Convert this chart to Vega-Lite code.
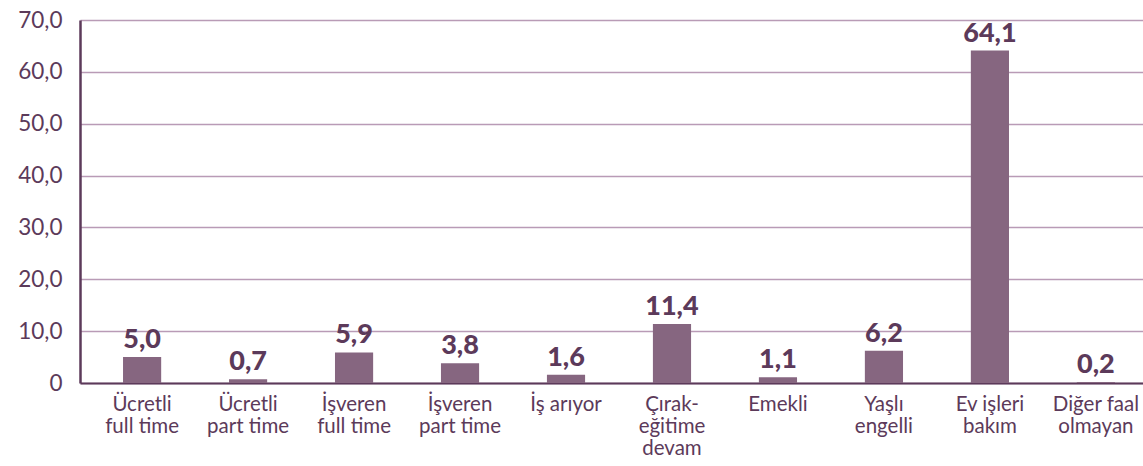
{
  "$schema": "https://vega.github.io/schema/vega-lite/v6.json",
  "autosize": {"type": "none"},
  "width": 1078,
  "height": 363,
  "padding": {"left": 80, "top": 20, "right": 0, "bottom": 83},
  "background": "white",
  "data": {"values": [
    {"cat": "Ücretli|full time", "value": 5.0, "lbl": "5,0"},
    {"cat": "Ücretli|part time", "value": 0.7, "lbl": "0,7"},
    {"cat": "İşveren|full time", "value": 5.9, "lbl": "5,9"},
    {"cat": "İşveren|part time", "value": 3.8, "lbl": "3,8"},
    {"cat": "İş arıyor", "value": 1.6, "lbl": "1,6"},
    {"cat": "Çırak-|eğitime|devam", "value": 11.4, "lbl": "11,4"},
    {"cat": "Emekli", "value": 1.1, "lbl": "1,1"},
    {"cat": "Yaşlı|engelli", "value": 6.2, "lbl": "6,2"},
    {"cat": "Ev işleri|bakım", "value": 64.1, "lbl": "64,1"},
    {"cat": "Diğer faal|olmayan", "value": 0.2, "lbl": "0,2"}
  ]},
  "encoding": {
    "x": {
      "field": "cat", "type": "nominal", "sort": null,
      "scale": {"paddingInner": 0.64, "paddingOuter": 0.406},
      "axis": {
        "title": null, "labelAngle": 0, "ticks": false,
        "labelExpr": "split(datum.label, '|')",
        "labelFont": "Lato", "labelFontSize": 20.5, "labelColor": "#5c3a5a",
        "labelPadding": 11, "labelLineHeight": 22, "labelBaseline": "top",
        "domainColor": "#5c3a5a", "domainWidth": 2
      }
    },
    "y": {
      "field": "value", "type": "quantitative",
      "scale": {"domain": [0, 70], "nice": false},
      "axis": {
        "title": null, "values": [0, 10, 20, 30, 40, 50, 60, 70],
        "labelExpr": "datum.value == 0 ? '0' : replace(format(datum.value, '.1f'), '.', ',')",
        "labelFont": "Lato", "labelFontSize": 22.5, "labelColor": "#5c3a5a",
        "labelPadding": 18, "ticks": false,
        "grid": true, "gridColor": "#b99bb6", "gridWidth": 1.5,
        "domainColor": "#5c3a5a", "domainWidth": 2.5
      }
    }
  },
  "layer": [
    {"mark": {"type": "bar", "color": "#866680"}},
    {"mark": {"type": "text", "font": "Lato", "fontWeight": 900, "fontSize": 27, "color": "#5c3a5a", "baseline": "bottom", "dy": -3},
     "encoding": {"text": {"field": "lbl"}}}
  ],
  "config": {"view": {"stroke": null}}
}
